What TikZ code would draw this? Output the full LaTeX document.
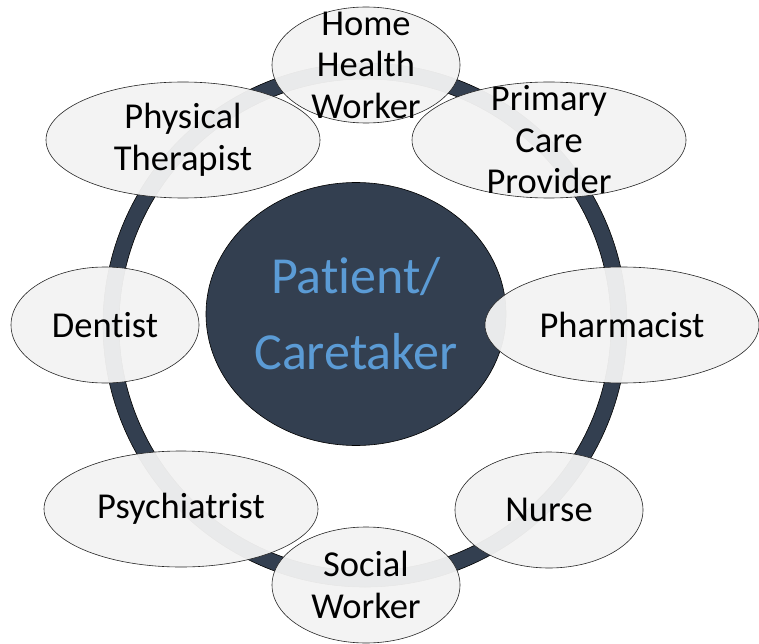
\documentclass[tikz,border=0pt]{standalone}
\usepackage{fontspec}
\setmainfont{Carlito}[Ligatures={NoCommon}]
\usetikzlibrary{shapes.geometric}
\definecolor{ringnavy}{HTML}{333F50}
\definecolor{capblue}{HTML}{5B9BD5}
\definecolor{bubblegray}{HTML}{F2F2F2}
\tikzset{role/.style={draw=black!85,line width=0.6pt,ellipse,fill=bubblegray,fill opacity=0.955,minimum height=116pt,inner sep=0pt},
  small/.style={role,minimum width=188pt},
  wide/.style={role,minimum width=274pt},
  rolename/.style={align=center,font=\fontsize{36.5}{41.5}\selectfont,text=black,inner sep=0pt}}

\begin{document}
\begin{tikzpicture}[x=1pt,y=-1pt]
				\useasboundingbox (0,0) rectangle (759,644);
				\coordinate (hub) at (365,325);
				\draw[black,line width=0.6pt,fill=ringnavy,even odd rule]
				(hub) circle[radius=262pt] (hub) circle[radius=246pt];

				\node[ellipse,draw=black,line width=0.6pt,fill=ringnavy,minimum width=300pt,minimum height=263pt,inner sep=0pt,
				align=center,text=capblue,font=\fontsize{52}{76}\selectfont] (patient) at (356,314) {Patient/\\Caretaker};

				\node[small] (hhw) at (366,65) {};
				\node[rolename] (hhwtext) at (hhw) {Home\\Health\\Worker};
				\node[wide] (pcp) at (549,140) {};
				\node[rolename] (pcptext) at (pcp) {Primary\\Care\\Provider};
				\node[wide] (pharm) at (622,325) {};
				\node[rolename] (pharmtext) at (pharm) {Pharmacist};
				\node[small] (nurse) at (549,510) {};
				\node[rolename] (nursetext) at (nurse) {Nurse};
				\node[small] (social) at (366,585) {};
				\node[rolename] (socialtext) at (social) {Social\\Worker};
				\node[wide] (psych) at (181,509) {};
				\node[rolename] (psychtext) at (psych) {Psychiatrist};
				\node[small] (dent) at (105,325) {};
				\node[rolename] (denttext) at (dent) {Dentist};
				\node[wide] (pt) at (183,140) {};
				\node[rolename] (pttext) at (pt) {Physical\\Therapist};

			\end{tikzpicture}
\end{document}
